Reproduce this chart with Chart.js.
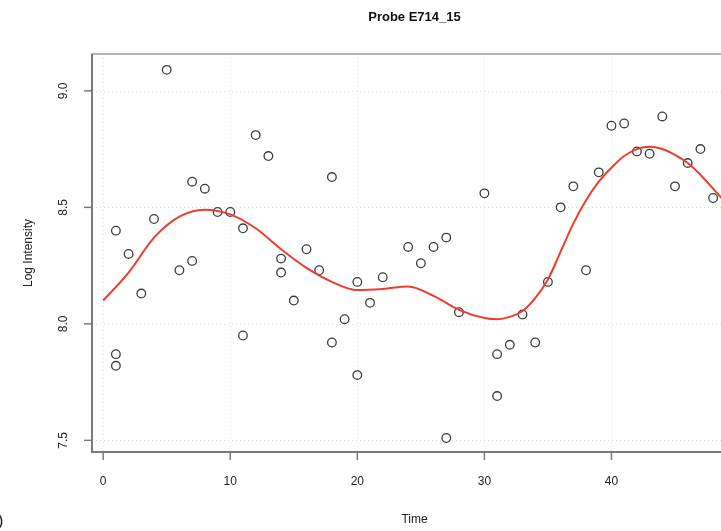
<!DOCTYPE html>
<html>
<head>
<meta charset="utf-8">
<script src="https://cdn.jsdelivr.net/npm/chart.js@4.4.0/dist/chart.umd.min.js"></script>
<style>
body { margin: 0; background: #fff; overflow: hidden; }
#wrap { position: relative; width: 745px; height: 531px; }
</style>
</head>
<body>
<div id="wrap"><canvas id="probeChart" width="745" height="531"></canvas></div>
<script>
// observed arrays
const times = [1, 1, 1, 2, 3, 4, 5, 6, 7, 7, 8, 9, 10, 11, 11, 12, 13, 14, 14, 15, 16, 17, 18, 18, 19, 20, 20, 21, 22, 24, 25, 26, 27, 27, 28, 30, 31, 31, 32, 33, 34, 35, 36, 37, 38, 39, 40, 41, 42, 43, 44, 45, 46, 47, 48];
const logIntensity = [8.40, 7.87, 7.82, 8.30, 8.13, 8.45, 9.09, 8.23, 8.27, 8.61, 8.58, 8.48, 8.48, 8.41, 7.95, 8.81, 8.72, 8.28, 8.22, 8.10, 8.32, 8.23, 8.63, 7.92, 8.02, 8.18, 7.78, 8.09, 8.20, 8.33, 8.26, 8.33, 8.37, 7.51, 8.05, 8.56, 7.87, 7.69, 7.91, 8.04, 7.92, 8.18, 8.50, 8.59, 8.23, 8.65, 8.85, 8.86, 8.74, 8.73, 8.89, 8.59, 8.69, 8.75, 8.54];

// smooth fit (red curve)
const fitTimes = [0, 2, 4, 6, 8, 10, 12, 14, 16, 18, 20, 22, 24, 26, 28, 30, 31, 32, 33, 34, 35, 36, 37, 38, 39, 40, 41, 42, 43, 44, 45, 46, 47, 48, 49];
const fitValues = [8.10, 8.22, 8.37, 8.46, 8.49, 8.47, 8.41, 8.32, 8.24, 8.18, 8.145, 8.15, 8.16, 8.12, 8.06, 8.025, 8.02, 8.03, 8.055, 8.11, 8.19, 8.31, 8.43, 8.53, 8.61, 8.67, 8.72, 8.75, 8.76, 8.75, 8.725, 8.69, 8.64, 8.58, 8.52];

const xTicks = [0, 10, 20, 30, 40];
const yTicks = [7.5, 8.0, 8.5, 9.0];
const xTickLabels = ['0', '10', '20', '30', '40'];
const yTickLabels = ['7.5', '8.0', '8.5', '9.0'];

const chartTitle = 'Probe E714_15';
const xTitle = 'Time';
const yTitle = 'Log Intensity';

const fontFam = '"Liberation Sans", Arial, Helvetica, sans-serif';

// draws the R style frame, grid, ticks and texts
const rFrame = {
    id: 'rFrame',
    beforeDatasetsDraw(chart) {
        const ctx = chart.ctx;
        const a = chart.chartArea;
        const xs = chart.scales.x;
        const ys = chart.scales.y;
        ctx.save();

        // dotted grid
        ctx.strokeStyle = '#dcdcdc';
        ctx.lineWidth = 1;
        ctx.setLineDash([1, 3]);
        xTicks.forEach(v => {
            const px = Math.round(xs.getPixelForValue(v)) + 0.5;
            ctx.beginPath();
            ctx.moveTo(px, a.top);
            ctx.lineTo(px, a.bottom);
            ctx.stroke();
        });
        yTicks.forEach(v => {
            const py = Math.round(ys.getPixelForValue(v)) + 0.5;
            ctx.beginPath();
            ctx.moveTo(a.left, py);
            ctx.lineTo(a.right, py);
            ctx.stroke();
        });
        ctx.setLineDash([]);

        // box
        ctx.strokeStyle = '#b4b4b4';
        ctx.lineWidth = 2;
        ctx.strokeRect(a.left, a.top, a.right - a.left, a.bottom - a.top);
        ctx.strokeStyle = '#7a7a7a';
        ctx.beginPath();
        ctx.moveTo(a.left, a.top);
        ctx.lineTo(a.left, a.bottom);
        ctx.lineTo(a.right, a.bottom);
        ctx.stroke();

        // tick marks
        ctx.lineWidth = 1.5;
        xTicks.forEach(v => {
            const px = xs.getPixelForValue(v);
            ctx.beginPath();
            ctx.moveTo(px, a.bottom);
            ctx.lineTo(px, a.bottom + 8);
            ctx.stroke();
        });
        yTicks.forEach(v => {
            const py = ys.getPixelForValue(v);
            ctx.beginPath();
            ctx.moveTo(a.left, py);
            ctx.lineTo(a.left - 8, py);
            ctx.stroke();
        });

        // tick labels
        ctx.fillStyle = '#222';
        ctx.font = '12px ' + fontFam;
        ctx.textAlign = 'center';
        ctx.textBaseline = 'middle';
        xTicks.forEach((v, i) => {
            ctx.fillText(xTickLabels[i], xs.getPixelForValue(v), 482);
        });
        yTicks.forEach((v, i) => {
            ctx.save();
            ctx.translate(64, ys.getPixelForValue(v));
            ctx.rotate(-Math.PI / 2);
            ctx.fillText(yTickLabels[i], 0, 0);
            ctx.restore();
        });

        // axis titles
        const midX = (a.left + a.right) / 2;
        const midY = (a.top + a.bottom) / 2;
        ctx.fillText(xTitle, midX, 520);
        ctx.save();
        ctx.translate(29, midY);
        ctx.rotate(-Math.PI / 2);
        ctx.fillText(yTitle, 0, 0);
        ctx.restore();

        // main title
        ctx.font = 'bold 13px ' + fontFam;
        ctx.fillStyle = '#111';
        ctx.fillText(chartTitle, midX, 17);

        // cut-off panel mark at bottom left
        ctx.font = '16px ' + fontFam;
        ctx.textAlign = 'left';
        ctx.fillText(')', -2, 522);

        ctx.restore();
    }
};

new Chart(document.getElementById('probeChart'), {
    type: 'scatter',
    data: {
        datasets: [
            {
                label: 'fit',
                type: 'line',
                data: fitTimes.map((t, i) => ({ x: t, y: fitValues[i] })),
                borderColor: '#ee3b2e',
                borderWidth: 2,
                pointRadius: 0,
                cubicInterpolationMode: 'monotone',
                fill: false,
                order: 1
            },
            {
                label: 'observed',
                data: times.map((t, i) => ({ x: t, y: logIntensity[i] })),
                pointRadius: 4.3,
                pointBackgroundColor: 'rgba(0,0,0,0)',
                pointBorderColor: '#3c3c3c',
                pointBorderWidth: 1.3,
                order: 2
            }
        ]
    },
    options: {
        responsive: false,
        animation: false,
        layout: { padding: { left: 92, top: 54, right: 8, bottom: 79 } },
        plugins: {
            legend: { display: false },
            tooltip: { enabled: false }
        },
        scales: {
            x: { type: 'linear', min: -0.88, max: 49.88, display: false },
            y: { type: 'linear', min: 7.45, max: 9.158, display: false }
        }
    },
    plugins: [rFrame]
});
</script>
</body>
</html>
